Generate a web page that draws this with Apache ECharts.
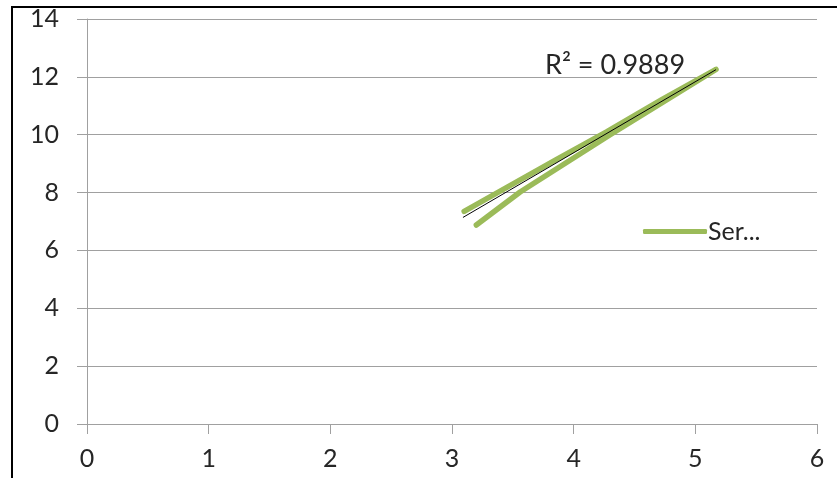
<!DOCTYPE html>
<html>
<head>
<meta charset="utf-8">
<script src="https://cdn.jsdelivr.net/npm/echarts@6/dist/echarts.min.js"></script>
<style>html,body{margin:0;padding:0;background:#fff;}#c{width:837px;height:478px;}</style>
</head>
<body>
<div id="c"></div>
<script>
const seriesName = 'Series1';
const xValues = [3.20, 3.56, 4.30, 5.17, 4.72, 4.27, 3.86, 3.10];
const yValues = [6.88, 8.02, 10.00, 12.26, 11.20, 10.10, 9.15, 7.35];
const trendX = [3.09, 5.17];
const trendY = [7.14, 12.25];
const r2Label = 'R² = 0.9889';
const xTicks = [0, 1, 2, 3, 4, 5, 6];
const yTicks = [0, 2, 4, 6, 8, 10, 12, 14];

const font = 'Lato, "Open Sans", sans-serif';
const chart = echarts.init(document.getElementById('c'));
chart.setOption({
  animation: false,
  backgroundColor: '#fff',
  grid: {left: 87, right: 20, top: 19, bottom: 54},
  xAxis: {
    type: 'value', min: 0, max: 6, interval: 1,
    axisLine: {show: true, lineStyle: {color: '#a0a0a0', width: 1}},
    axisTick: {show: true, length: 10, lineStyle: {color: '#a0a0a0'}},
    axisLabel: {fontFamily: font, fontSize: 25, color: '#262626', margin: 22},
    splitLine: {show: false}
  },
  yAxis: {
    type: 'value', min: 0, max: 14, interval: 2,
    axisLine: {show: true, lineStyle: {color: '#a0a0a0', width: 1}},
    axisTick: {show: true, length: 10, lineStyle: {color: '#a0a0a0'}},
    axisLabel: {fontFamily: font, fontSize: 25, color: '#262626', margin: 28},
    splitLine: {show: true, lineStyle: {color: '#a0a0a0', width: 1}}
  },
  legend: {
    data: [seriesName],
    left: 638, top: 214,
    icon: 'roundRect',
    itemWidth: 64, itemHeight: 5, itemGap: 0,
    formatter: () => 'Ser...',
    textStyle: {fontFamily: font, fontSize: 25, color: '#262626', padding: [0, 0, 0, -4]}
  },
  graphic: [
    {type: 'rect', shape: {x: 12, y: 7, width: 900, height: 600}, style: {fill: 'none', stroke: '#000', lineWidth: 2}, silent: true, z: 100},
    {type: 'text', left: 545, top: 52, style: {text: r2Label, font: '27px ' + font, fill: '#262626'}, z: 50}
  ],
  series: [
    {
      name: seriesName, type: 'line',
      data: xValues.map((x, i) => [x, yValues[i]]),
      showSymbol: false, symbol: 'none',
      lineStyle: {color: '#9BBB59', width: 5.5, cap: 'round', join: 'round'},
      itemStyle: {color: '#9BBB59'}, z: 3
    },
    {
      name: 'trend', type: 'line',
      data: trendX.map((x, i) => [x, trendY[i]]),
      symbol: 'none',
      lineStyle: {color: '#000', width: 1},
      z: 4
    }
  ]
});
</script>
</body>
</html>
